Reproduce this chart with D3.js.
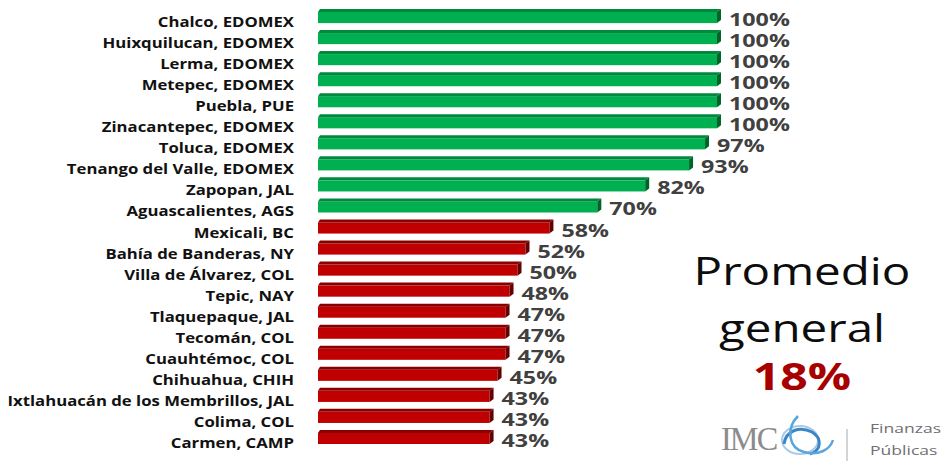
<!DOCTYPE html>
<html><head><meta charset="utf-8">
<script src="https://cdn.jsdelivr.net/npm/d3@7"></script>
<style>body{margin:0;background:#fff;}svg{display:block;}</style>
</head><body>
<svg id="c" width="945" height="461"></svg>
<script>
const categories = ["Chalco, EDOMEX","Huixquilucan, EDOMEX","Lerma, EDOMEX","Metepec, EDOMEX","Puebla, PUE","Zinacantepec, EDOMEX","Toluca, EDOMEX","Tenango del Valle, EDOMEX","Zapopan, JAL","Aguascalientes, AGS","Mexicali, BC","Bahía de Banderas, NY","Villa de Álvarez, COL","Tepic, NAY","Tlaquepaque, JAL","Tecomán, COL","Cuauhtémoc, COL","Chihuahua, CHIH","Ixtlahuacán de los Membrillos, JAL","Colima, COL","Carmen, CAMP"];
const values = [100,100,100,100,100,100,97,93,82,70,58,52,50,48,47,47,47,45,43,43,43];
const threshold = 60;
const summaryLines = ["Promedio","general"];
const summaryValue = "18%";
const logoLines = ["Finanzas","Públicas"];

const svg = d3.select("#c");
const x = d3.scaleLinear().domain([0,100]).range([318,717]);
const y = d3.scaleBand().domain(categories).range([9,444]).paddingInner(0.33).paddingOuter(0);
const bw = y.bandwidth();
const data = categories.map((c,i)=>({c, v: values[i]}));
const col = v => v >= threshold ? {f:"#00b050", t:"#00893c", s:"#006429"} : {f:"#c00000", t:"#8a0000", s:"#640000"};
const depth = 4, topH = 3;

const g = svg.append("g");
const bars = g.selectAll("g.bar").data(data).enter().append("g");
bars.append("rect")
  .attr("x", x(0)).attr("y", d=>y(d.c)+topH)
  .attr("width", d=>x(d.v)-x(0)).attr("height", bw-topH)
  .attr("fill", d=>col(d.v).f);
bars.append("path")
  .attr("d", d=>`M${x(0)},${y(d.c)+topH} L${x(0)+2},${y(d.c)} L${x(d.v)+depth},${y(d.c)} L${x(d.v)},${y(d.c)+topH} Z`)
  .attr("fill", d=>col(d.v).t);
bars.append("path")
  .attr("d", d=>`M${x(d.v)},${y(d.c)+topH} L${x(d.v)+depth},${y(d.c)} L${x(d.v)+depth},${y(d.c)+bw-topH} L${x(d.v)},${y(d.c)+bw} Z`)
  .attr("fill", d=>col(d.v).s);

// value labels
g.selectAll("text.val").data(data).enter().append("text")
  .attr("transform", d=>`translate(${x(d.v)+depth+8},${y(d.c)+bw/2+10}) scale(1.33,1)`)
  .attr("font-family","'Open Sans', sans-serif").attr("font-weight","bold")
  .attr("font-size","17.5px").attr("fill","#404040")
  .text(d=>d.v+"%");

// category labels
const yAxis = d3.axisLeft(y).tickSize(0).tickPadding(0);
const ax = svg.append("g").attr("transform","translate(294,0)").call(yAxis);
ax.select(".domain").remove();
ax.selectAll(".tick text")
  .attr("x",0).attr("y",0).attr("dy",null)
  .attr("transform","translate(0,11) scale(1.24,1)")
  .attr("font-family","'Open Sans', sans-serif").attr("font-weight","bold")
  .attr("font-size","13.5px").attr("fill","#111");

// summary
const s = svg.append("g").attr("font-family","'Open Sans', sans-serif").attr("text-anchor","middle");
s.selectAll("text.l").data(summaryLines).enter().append("text")
  .attr("transform",(d,i)=>`translate(802,${285+i*57}) scale(1.25,1)`)
  .attr("font-size","38px").attr("fill","#0d0d0d").text(d=>d);
s.append("text").attr("transform","translate(802,390) scale(1.3,1)").attr("font-size","37px")
  .attr("font-weight","bold").attr("fill","#a80000").text(summaryValue);

// logo
const lg = svg.append("g");
lg.append("text").attr("transform","translate(721,450) scale(0.95,1)").attr("font-family","'Liberation Serif', serif")
  .attr("font-size","34px").attr("fill","#8c8c8c").attr("letter-spacing","-2").text("IMC");
lg.append("ellipse").attr("cx",800).attr("cy",440).attr("rx",18).attr("ry",14)
  .attr("fill","none").attr("stroke","#a9cbe6").attr("stroke-width",2);
lg.append("path").attr("d","M784,444 C786,430 800,426 812,432 C822,438 822,450 810,454")
  .attr("fill","none").attr("stroke","#3d86c6").attr("stroke-width",3);
lg.append("path").attr("d","M798,416 C786,428 788,448 804,452 C818,456 830,450 833,440")
  .attr("fill","none").attr("stroke","#5aa6dc").attr("stroke-width",2.5);
lg.append("line").attr("x1",847).attr("x2",847).attr("y1",429).attr("y2",461).attr("stroke","#aaa").attr("stroke-width",1);
lg.selectAll("text.f").data(logoLines).enter().append("text")
  .attr("transform",(d,i)=>`translate(870,${433+i*22}) scale(1.35,1)`)
  .attr("font-family","'Open Sans', sans-serif").attr("font-size","13px").attr("fill","#707070").text(d=>d);
</script>
</body></html>
